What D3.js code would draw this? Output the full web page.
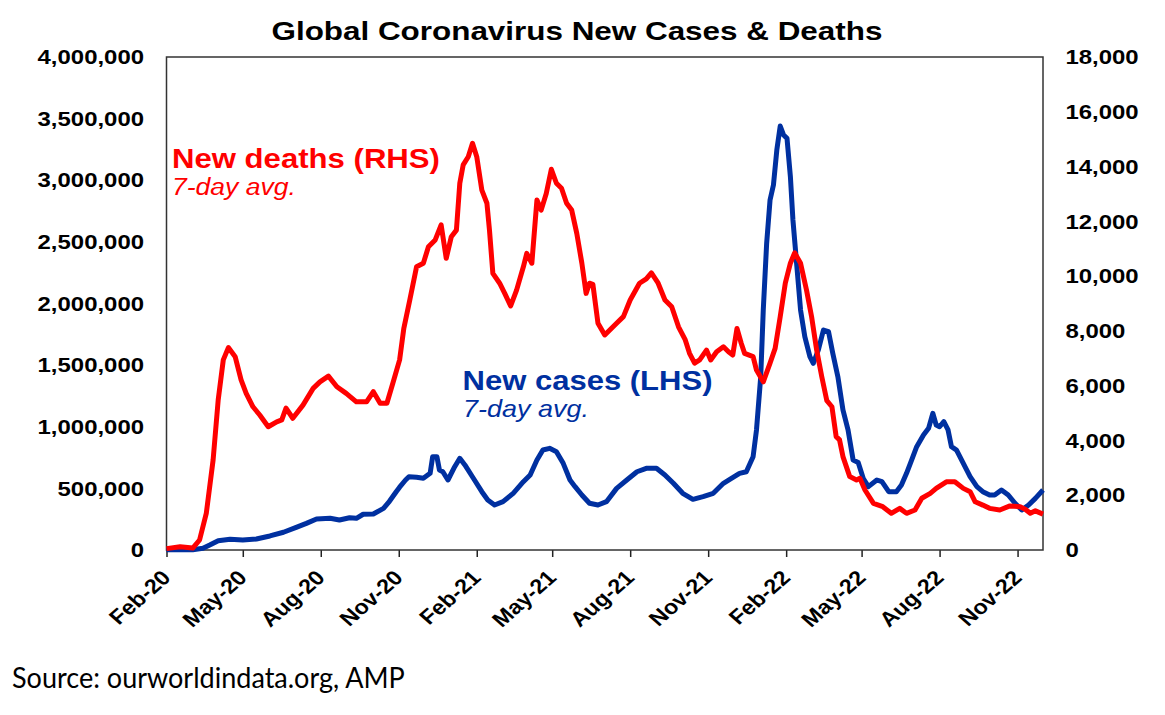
<!DOCTYPE html>
<html>
<head>
<meta charset="utf-8">
<script src="https://cdn.jsdelivr.net/npm/d3@7"></script>
<style>
body { margin: 0; background: #fff; }
svg { display: block; font-family: "Liberation Sans", Arial, sans-serif; }
</style>
</head>
<body>
<svg id="chart" width="1165" height="715"></svg>
<script>
// --- data ---
const tickDates = ["2020-02-01", "2020-05-01", "2020-08-01", "2020-11-01", "2021-02-01", "2021-05-01",
    "2021-08-01", "2021-11-01", "2022-02-01", "2022-05-01", "2022-08-01", "2022-11-01"];

const leftTicks = [0, 500000, 1000000, 1500000, 2000000, 2500000, 3000000, 3500000, 4000000];
const rightTicks = [0, 2000, 4000, 6000, 8000, 10000, 12000, 14000, 16000, 18000];

// new deaths, 7-day avg (right axis)
const deathDates = ["2020-02-01", "2020-02-17", "2020-03-03", "2020-03-11", "2020-03-19", "2020-03-27", "2020-04-02", "2020-04-08", "2020-04-14", "2020-04-22",
    "2020-04-29", "2020-05-05", "2020-05-13", "2020-05-21", "2020-05-31", "2020-06-10", "2020-06-16", "2020-06-21", "2020-06-29", "2020-07-11",
    "2020-07-23", "2020-07-31", "2020-08-10", "2020-08-20", "2020-08-31", "2020-09-12", "2020-09-24", "2020-10-02", "2020-10-10", "2020-10-18",
    "2020-10-25", "2020-11-02", "2020-11-07", "2020-11-14", "2020-11-22", "2020-11-30", "2020-12-06", "2020-12-14", "2020-12-21", "2020-12-27",
    "2021-01-02", "2021-01-08", "2021-01-12", "2021-01-16", "2021-01-22", "2021-01-27", "2021-02-01", "2021-02-07", "2021-02-13", "2021-02-16",
    "2021-02-20", "2021-02-28", "2021-03-06", "2021-03-13", "2021-03-20", "2021-03-28", "2021-04-01", "2021-04-07", "2021-04-13", "2021-04-18",
    "2021-04-24", "2021-04-30", "2021-05-06", "2021-05-12", "2021-05-18", "2021-05-24", "2021-05-30", "2021-06-05", "2021-06-10", "2021-06-14",
    "2021-06-18", "2021-06-24", "2021-07-02", "2021-07-16", "2021-07-24", "2021-08-01", "2021-08-12", "2021-08-20", "2021-08-26", "2021-09-03",
    "2021-09-11", "2021-09-19", "2021-09-27", "2021-10-05", "2021-10-10", "2021-10-16", "2021-10-22", "2021-10-30", "2021-11-04", "2021-11-11",
    "2021-11-19", "2021-11-25", "2021-11-30", "2021-12-05", "2021-12-10", "2021-12-14", "2021-12-24", "2021-12-28", "2022-01-05", "2022-01-13",
    "2022-01-19", "2022-01-25", "2022-01-31", "2022-02-06", "2022-02-11", "2022-02-18", "2022-02-25", "2022-03-03", "2022-03-09", "2022-03-15",
    "2022-03-21", "2022-03-27", "2022-04-01", "2022-04-05", "2022-04-09", "2022-04-17", "2022-04-25", "2022-04-29", "2022-05-05", "2022-05-15",
    "2022-05-26", "2022-06-05", "2022-06-15", "2022-06-23", "2022-07-03", "2022-07-11", "2022-07-21", "2022-07-28", "2022-08-09", "2022-08-19",
    "2022-08-29", "2022-09-06", "2022-09-12", "2022-09-21", "2022-09-29", "2022-10-11", "2022-10-23", "2022-11-04", "2022-11-10", "2022-11-16",
    "2022-11-22", "2022-12-01"];
const deathValues = [50, 120, 70, 365, 1350, 3290, 5480, 6940, 7390, 7060,
    6210, 5720, 5230, 4930, 4500, 4680, 4750, 5180, 4810, 5290,
    5900, 6140, 6350, 5960, 5720, 5410, 5410, 5780, 5360, 5360,
    6090, 6940, 8100, 9130, 10340, 10470, 11070, 11320, 11870, 10650,
    11440, 11680, 13390, 14060, 14360, 14850, 14360, 13140, 12660, 11680,
    10100, 9740, 9370, 8910, 9490, 10340, 10830, 10470, 12780, 12410,
    13020, 13900, 13390, 13210, 12660, 12410, 11560, 10470, 9370, 9740,
    9700, 8280, 7850, 8280, 8520, 9130, 9740, 9900, 10120, 9740,
    9130, 8880, 8150, 7670, 7180, 6820, 6940, 7300, 6940, 7240,
    7420, 7240, 7120, 8090, 7550, 7180, 7060, 6570, 6140, 6820,
    7360, 8520, 9740, 10470, 10850, 10470, 9490, 8520, 7300, 6330,
    5450, 5230, 4140, 4020, 3410, 2680, 2560, 2620, 2190, 1700,
    1580, 1340, 1520, 1340, 1460, 1890, 2070, 2250, 2490, 2490,
    2250, 2130, 1760, 1640, 1520, 1460, 1610, 1580, 1490, 1340,
    1430, 1310];

// new cases, 7-day avg (left axis)
const caseDates = ["2020-02-01", "2020-03-03", "2020-03-15", "2020-03-23", "2020-04-02", "2020-04-16", "2020-05-01", "2020-05-17", "2020-06-02", "2020-06-18",
    "2020-07-03", "2020-07-15", "2020-07-27", "2020-08-12", "2020-08-23", "2020-09-04", "2020-09-12", "2020-09-20", "2020-10-02", "2020-10-14",
    "2020-10-21", "2020-10-29", "2020-11-02", "2020-11-09", "2020-11-13", "2020-11-22", "2020-11-30", "2020-12-08", "2020-12-11", "2020-12-16",
    "2020-12-19", "2020-12-23", "2020-12-29", "2021-01-06", "2021-01-12", "2021-01-18", "2021-01-28", "2021-02-07", "2021-02-14", "2021-02-22",
    "2021-03-04", "2021-03-16", "2021-03-28", "2021-04-05", "2021-04-13", "2021-04-20", "2021-04-28", "2021-05-06", "2021-05-14", "2021-05-22",
    "2021-05-28", "2021-06-05", "2021-06-14", "2021-06-24", "2021-07-04", "2021-07-16", "2021-07-28", "2021-08-09", "2021-08-20", "2021-09-01",
    "2021-09-11", "2021-09-21", "2021-10-02", "2021-10-14", "2021-10-26", "2021-11-07", "2021-11-19", "2021-11-27", "2021-12-08", "2021-12-16",
    "2021-12-24", "2021-12-28", "2022-01-02", "2022-01-05", "2022-01-09", "2022-01-13", "2022-01-17", "2022-01-21", "2022-01-25", "2022-01-29",
    "2022-02-02", "2022-02-06", "2022-02-09", "2022-02-13", "2022-02-18", "2022-02-23", "2022-03-01", "2022-03-05", "2022-03-11", "2022-03-17",
    "2022-03-23", "2022-03-28", "2022-04-03", "2022-04-09", "2022-04-15", "2022-04-21", "2022-04-27", "2022-05-03", "2022-05-09", "2022-05-19",
    "2022-05-25", "2022-06-02", "2022-06-11", "2022-06-17", "2022-06-23", "2022-06-29", "2022-07-05", "2022-07-13", "2022-07-19", "2022-07-24",
    "2022-07-28", "2022-08-01", "2022-08-06", "2022-08-11", "2022-08-15", "2022-08-21", "2022-08-29", "2022-09-06", "2022-09-14", "2022-09-21",
    "2022-09-29", "2022-10-05", "2022-10-13", "2022-10-21", "2022-10-29", "2022-11-06", "2022-11-14", "2022-11-22", "2022-12-01"];
const caseValues = [2500, 2500, 14000, 40000, 75000, 87000, 81000, 89000, 114000, 144000,
    184000, 216000, 252000, 257000, 243000, 262000, 257000, 290000, 292000, 338000,
    395000, 473000, 510000, 568000, 595000, 590000, 582000, 622000, 757000, 757000,
    649000, 635000, 568000, 676000, 744000, 690000, 582000, 473000, 406000, 365000,
    392000, 460000, 554000, 609000, 730000, 811000, 825000, 798000, 703000, 568000,
    514000, 446000, 379000, 365000, 392000, 500000, 568000, 635000, 663000, 663000,
    609000, 541000, 460000, 411000, 433000, 460000, 541000, 575000, 622000, 635000,
    757000, 974000, 1406000, 1947000, 2489000, 2840000, 2962000, 3246000, 3440000, 3367000,
    3340000, 3029000, 2678000, 2353000, 1947000, 1731000, 1569000, 1515000, 1623000, 1785000,
    1771000, 1596000, 1406000, 1136000, 974000, 730000, 710000, 580000, 514000, 568000,
    554000, 473000, 473000, 527000, 622000, 730000, 838000, 933000, 987000, 1109000,
    1014000, 1000000, 1041000, 974000, 838000, 811000, 703000, 595000, 514000, 473000,
    446000, 446000, 487000, 446000, 379000, 325000, 365000, 419000, 487000];

// --- layout ---
const WIDTH = 1165, HEIGHT = 715;
const margin = {top: 57, right: 122, bottom: 165, left: 166.5};
const RED = "#ff0000", BLUE = "#0030a0";
const STRETCH = 1.14;   // the original text is a bit wide

let parse = d3.utcParse("%Y-%m-%d");
let svg = d3.select("#chart");

let x = d3.scaleUtc()
    .domain([parse("2020-02-01"), parse("2022-12-01")])
    .range([margin.left, WIDTH - margin.right]);
let yLeft = d3.scaleLinear().domain([0, 4000000]).range([HEIGHT - margin.bottom, margin.top]);
let yRight = d3.scaleLinear().domain([0, 18000]).range([HEIGHT - margin.bottom, margin.top]);

let fmt = d3.format(",");

// x axis
svg.append("g")
    .attr("transform", "translate(0," + (HEIGHT - margin.bottom) + ")")
    .call(d3.axisBottom(x)
        .tickValues(tickDates.map(parse))
        .tickFormat(d3.utcFormat("%b-%y"))
        .tickSize(7)
        .tickSizeOuter(0))
    .call(g => g.select(".domain").remove())
    .call(g => g.selectAll(".tick line").attr("stroke", "#222").attr("stroke-width", 1.5))
    .call(g => g.selectAll("text")
        .attr("x", 0).attr("y", 0).attr("dy", 0)
        .attr("text-anchor", "end")
        .attr("fill", "#000")
        .style("font-size", "20.5px")
        .style("font-weight", "bold")
        .attr("transform", "translate(5,29) scale(" + STRETCH + ",1) rotate(-45)"));

// left axis
svg.append("g")
    .attr("transform", "translate(" + margin.left + ",0)")
    .call(d3.axisLeft(yLeft).tickValues(leftTicks).tickFormat(fmt).tickSize(0))
    .call(g => g.select(".domain").remove())
    .call(g => g.selectAll("text")
        .attr("x", 0)
        .attr("fill", "#000")
        .style("font-size", "21px")
        .style("font-weight", "bold")
        .attr("transform", "translate(-22.5,0) scale(" + STRETCH + ",1)"));

// right axis
svg.append("g")
    .attr("transform", "translate(" + (WIDTH - margin.right) + ",0)")
    .call(d3.axisRight(yRight).tickValues(rightTicks).tickFormat(fmt).tickSize(0))
    .call(g => g.select(".domain").remove())
    .call(g => g.selectAll("text")
        .attr("x", 0)
        .attr("fill", "#000")
        .style("font-size", "21px")
        .style("font-weight", "bold")
        .attr("transform", "translate(22.5,0) scale(" + STRETCH + ",1)"));

// plot frame
svg.append("rect")
    .attr("x", margin.left)
    .attr("y", margin.top)
    .attr("width", WIDTH - margin.right - margin.left)
    .attr("height", HEIGHT - margin.bottom - margin.top)
    .attr("fill", "none")
    .attr("stroke", "#333")
    .attr("stroke-width", 1.5);

// lines: cases first, deaths drawn on top
let casePoints = caseDates.map((d, i) => [parse(d), caseValues[i]]);
let deathPoints = deathDates.map((d, i) => [parse(d), deathValues[i]]);

svg.append("path")
    .datum(casePoints)
    .attr("fill", "none")
    .attr("stroke", BLUE)
    .attr("stroke-width", 5)
    .attr("stroke-linejoin", "round")
    .attr("d", d3.line().x(d => x(d[0])).y(d => yLeft(d[1])));

svg.append("path")
    .datum(deathPoints)
    .attr("fill", "none")
    .attr("stroke", RED)
    .attr("stroke-width", 5)
    .attr("stroke-linejoin", "round")
    .attr("d", d3.line().x(d => x(d[0])).y(d => yRight(d[1])));

// text squeezed/stretched to the width it has in the original
function fittedText(str, px, py, width, style) {
    let t = svg.append("text")
        .attr("x", 0).attr("y", 0)
        .text(str);
    Object.keys(style).forEach(k => t.style(k, style[k]));
    let len = t.node().getComputedTextLength();
    t.attr("transform", "translate(" + px + "," + py + ") scale(" + (width / len) + ",1)");
    return t;
}

let boldFont = {"font-size": "26px", "font-weight": "bold", "fill": "#000"};
fittedText("Global Coronavirus New Cases & Deaths", 271.5, 40, 611, boldFont);

fittedText("New deaths (RHS)", 172, 167.5, 268, {"font-size": "27px", "font-weight": "bold", "fill": RED});
fittedText("7-day avg.", 172, 195, 124, {"font-size": "24px", "font-style": "italic", "fill": RED});

fittedText("New cases (LHS)", 462.5, 390, 250, {"font-size": "27px", "font-weight": "bold", "fill": BLUE});
fittedText("7-day avg.", 463, 417, 126, {"font-size": "24px", "font-style": "italic", "fill": BLUE});

fittedText("Source: ourworldindata.org, AMP", 12, 688, 393,
    {"font-size": "28px", "font-family": "Lato, 'Open Sans', sans-serif", "fill": "#000"});
</script>
</body>
</html>
